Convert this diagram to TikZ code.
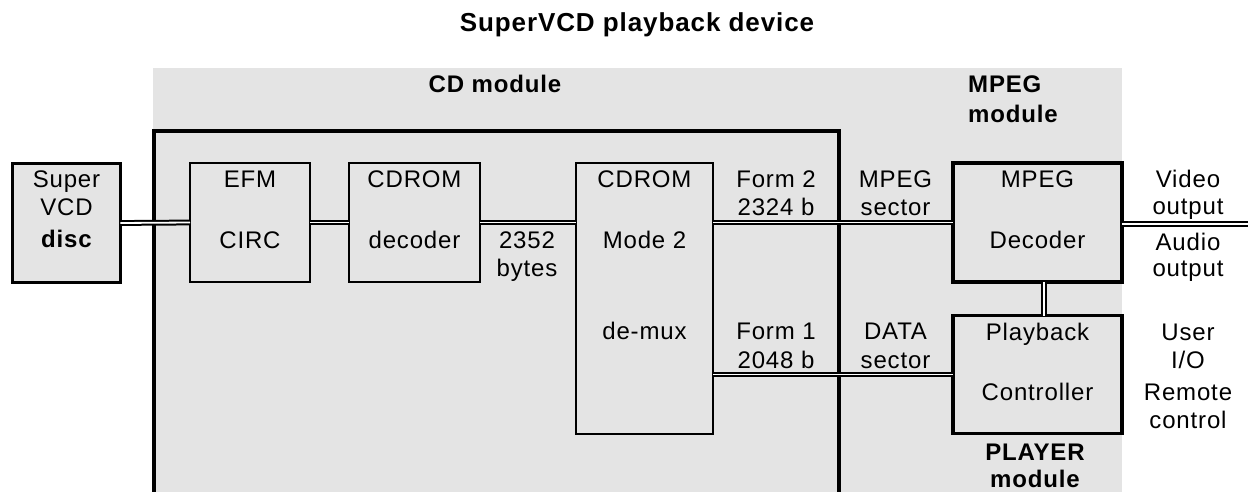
\documentclass[tikz,border=0pt]{standalone}
\usepackage{fontspec}
\setmainfont{Liberation Sans}[LetterSpace=3.5]
\definecolor{panel}{HTML}{E4E4E4}
\begin{document}
\begin{tikzpicture}[x=1pt,y=-1pt,
  every node/.style={font=\fontsize{24}{28}\selectfont},
  txt/.style={anchor=base,inner sep=0pt},
  hd/.style={txt,font=\fontsize{24}{28}\selectfont\bfseries},
  thinbox/.style={draw,fill=panel,line width=1.8pt,inner sep=0pt,outer sep=0pt},
  thickbox/.style={draw,fill=panel,line width=3.3pt,inner sep=0pt,outer sep=0pt},
  frame/.style={line width=3.4pt},
  link/.style={double=white,draw=black,line width=2pt,double distance=1.8pt}]
\useasboundingbox (0,0) rectangle (1248,492);

% module background and CD module frame
\fill[panel] (153,68) rectangle (1122,492);
\draw[frame] (154,492) -- (154,131) -- (839,131) -- (839,492);

% blocks
\node[thickbox,minimum width=107.8pt,minimum height=118.8pt] (disc) at (66.5,223) {};
\node[thinbox,minimum width=120pt,minimum height=119pt] (efm) at (250,222.5) {};
\node[thinbox,minimum width=131pt,minimum height=119pt] (cddec) at (414.5,222.5) {};
\node[thinbox,minimum width=137pt,minimum height=271pt] (mode2) at (644.5,298.5) {};
\node[thickbox,minimum width=169pt,minimum height=119pt] (mpegdec) at (1037.5,222.5) {};
\node[thickbox,minimum width=169pt,minimum height=118pt] (ctrl) at (1037.5,374.5) {};
\coordinate (out) at (1248,224);

% connections
\draw[link] (disc.east) -- (efm.west);
\draw[link] (efm.east) -- (cddec.west);
\draw[link] (cddec.east) -- (cddec.east -| mode2.west);
\draw[link] (mpegdec.west -| mode2.east) -- (mpegdec.west);
\draw[link] (ctrl.west -| mode2.east) -- (ctrl.west);
\draw[link] (mpegdec.east |- out) -- (out);
\draw[link] ([xshift=6.5pt]mpegdec.south) -- ([xshift=6.5pt]mpegdec.south |- ctrl.north);

% headings
\node[hd,font=\fontsize{26}{30}\selectfont\bfseries] (title) at (637,32) {SuperVCD playback device};
\node[hd] (cdmod) at (495,93) {CD module};
\node[hd,anchor=base west] (mpegmod1) at (968,93) {MPEG};
\node[hd,anchor=base west] (mpegmod2) at (968,123) {module};
\node[hd] (playmod1) at (1035,460) {PLAYER};
\node[hd] (playmod2) at (1035,487) {module};

% block texts
\node[txt] (t1) at (66.5,187.5) {Super};
\node[txt] (t2) at (66.5,215.5) {VCD};
\node[hd] (t3) at (66.5,247.5) {disc};
\node[txt] (t4) at (250,187.5) {EFM};
\node[txt] (t5) at (250,248.5) {CIRC};
\node[txt] (t6) at (414.5,187.5) {CDROM};
\node[txt] (t7) at (414.5,248.5) {decoder};
\node[txt] (t8) at (527,248.5) {2352};
\node[txt] (t9) at (527,276.5) {bytes};
\node[txt] (t10) at (644.5,187.5) {CDROM};
\node[txt] (t11) at (644.5,248.5) {Mode 2};
\node[txt] (t12) at (644.5,339.5) {de-mux};
\node[txt] (t13) at (776,187.5) {Form 2};
\node[txt] (t14) at (776,215.5) {2324 b};
\node[txt] (t15) at (776,339.5) {Form 1};
\node[txt] (t16) at (776,368) {2048 b};
\node[txt] (t17) at (895.5,187.5) {MPEG};
\node[txt] (t18) at (895.5,215.5) {sector};
\node[txt] (t19) at (895.5,339.5) {DATA};
\node[txt] (t20) at (895.5,368) {sector};
\node[txt] (t21) at (1037.5,187.5) {MPEG};
\node[txt] (t22) at (1037.5,248.5) {Decoder};
\node[txt] (t23) at (1037.5,340) {Playback};
\node[txt] (t24) at (1037.5,400) {Controller};
\node[txt] (t25) at (1188,187.5) {Video};
\node[txt] (t26) at (1188,214.5) {output};
\node[txt] (t27) at (1188,250) {Audio};
\node[txt] (t28) at (1188,276) {output};
\node[txt] (t29) at (1188,340) {User};
\node[txt] (t30) at (1188,368) {I/O};
\node[txt] (t31) at (1188,400) {Remote};
\node[txt] (t32) at (1188,428) {control};
\end{tikzpicture}
\end{document}
